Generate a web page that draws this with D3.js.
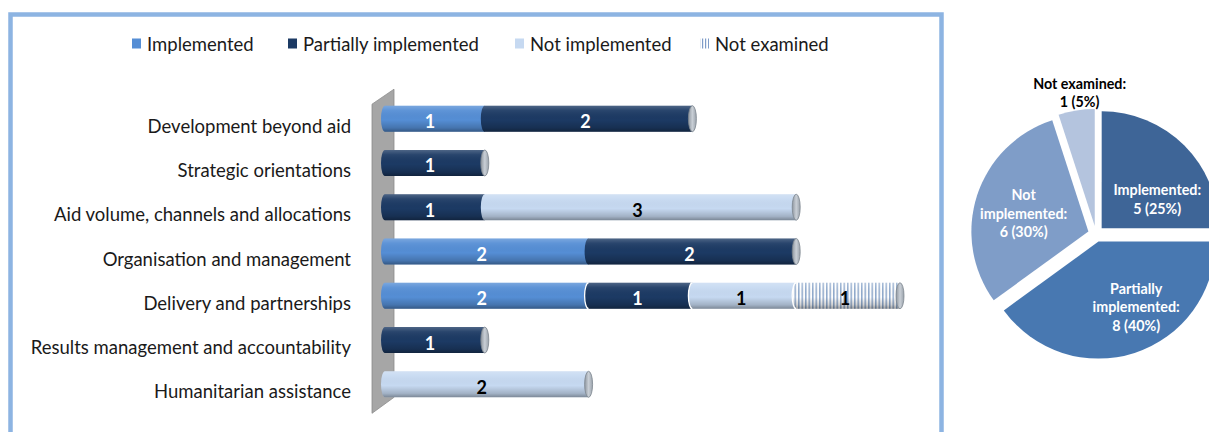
<!DOCTYPE html>
<html><head><meta charset="utf-8">
<script src="https://cdn.jsdelivr.net/npm/d3@7"></script>
<style>body{margin:0;background:#fff}svg{display:block}</style>
</head><body>
<svg id="c" width="1209" height="432"></svg>
<script>
// ---------- data ----------
const categories = ["Development beyond aid","Strategic orientations","Aid volume, channels and allocations","Organisation and management","Delivery and partnerships","Results management and accountability","Humanitarian assistance"];
const seriesNames = ["Implemented","Partially implemented","Not implemented","Not examined"];
const implemented    = [1,0,0,2,2,0,0];
const partial        = [2,1,1,2,1,1,0];
const notImplemented = [0,0,3,0,1,0,2];
const notExamined    = [0,0,0,0,1,0,0];
const xTicks = [0,1,2,3,4,5];

const pieNames  = ["Implemented","Partially implemented","Not implemented","Not examined"];
const pieValues = [5,8,6,1];
const pieLabels = [["Implemented:","5 (25%)"],["Partially","implemented:","8 (40%)"],["Not","implemented:","6 (30%)"],["Not examined:","1 (5%)"]];

// ---------- styles ----------
const barColors = ["#558ED5","#1C3A64","#C6D9F1",null];
const barTextColors = ["#fff","#fff","#000","#000"];
const pieColors = ["#3E6597","#4878B1","#7F9DC8","#B4C4DE"];
const pieTextColors = ["#fff","#fff","#fff","#000"];
const pieLabelNudge = [[6,21],[16,-1],[2,4],[6,0]];
const labelFont = "Lato, 'Open Sans', sans-serif";

const svg = d3.select("#c");
const defs = svg.append("defs");

// shading gradient (cylinder look)
const sh = defs.append("linearGradient").attr("id","shade").attr("x1",0).attr("y1",0).attr("x2",0).attr("y2",1);
[[0,"#fff",0.22],[0.18,"#fff",0.06],[0.55,"#000",0],[0.85,"#000",0.18],[1,"#000",0.38]]
  .forEach(s=>sh.append("stop").attr("offset",s[0]).attr("stop-color",s[1]).attr("stop-opacity",s[2]));
// cap gradient
const cg = defs.append("linearGradient").attr("id","cap").attr("x1",0).attr("y1",0).attr("x2",1).attr("y2",0);
[[0,"#8e969f"],[0.5,"#c9cfd6"],[1,"#9aa2ab"]].forEach(s=>cg.append("stop").attr("offset",s[0]).attr("stop-color",s[1]));
// stripes pattern for "Not examined"
const pat = defs.append("pattern").attr("id","stripes").attr("patternUnits","userSpaceOnUse").attr("width",3.5).attr("height",40);
pat.append("rect").attr("width",3.5).attr("height",40).attr("fill","#ffffff");
pat.append("rect").attr("x",0).attr("width",1.5).attr("height",40).attr("fill","#8FA9CC");
const patL = defs.append("pattern").attr("id","stripesL").attr("patternUnits","userSpaceOnUse").attr("width",3).attr("height",20);
patL.append("rect").attr("width",3).attr("height",20).attr("fill","#ffffff");
patL.append("rect").attr("x",0).attr("width",1.2).attr("height",20).attr("fill","#7F9CC8");
const fills = barColors.map((c,i)=> c ? c : "url(#stripes)");

// frame
svg.append("rect").attr("x",10.5).attr("y",14.5).attr("width",931).attr("height",440)
  .attr("fill","none").attr("stroke","#8DB4E2").attr("stroke-width",4.5);

// ---------- bar chart ----------
const x = d3.scaleLinear().domain([0,5]).range([381, 900]);
const y = d3.scalePoint().domain(categories).range([118.7, 384.3]);
const barH = 26, rx = 4;

const table = categories.map((c,i)=>({cat:c, "Implemented":implemented[i], "Partially implemented":partial[i], "Not implemented":notImplemented[i], "Not examined":notExamined[i]}));
const stack = d3.stack().keys(seriesNames)(table);

// wall
const wallTop = y.range()[0]-15, wallBot = y.range()[1]+13;
svg.append("path")
  .attr("d",`M372,${wallTop+0.5} L394,${wallTop-14.5} L394,${wallBot} L372,${wallBot+16} Z`)
  .attr("fill","#A6A6A6").attr("stroke","#8C8C8C").attr("stroke-width",0.8);

// category labels
svg.append("g").selectAll("text").data(categories).join("text")
  .attr("x",351).attr("y",d=>y(d)+14)
  .attr("text-anchor","end").attr("font-family",labelFont).attr("font-size",18.5).attr("fill","#1a1a1a")
  .text(d=>d);

function segPath(x0,x1,cy,first){
  const t = cy-barH/2, b = cy+barH/2;
  const xl = first ? x0+rx : x0;
  return `M${xl},${t} L${x1},${t} L${x1},${b} L${xl},${b} A${rx},${barH/2} 0 0 1 ${xl},${t} Z`;
}
const segs = [];
categories.forEach((c,i)=>{
  let first = true;
  stack.forEach((s,k)=>{
    const v = s[i][1]-s[i][0];
    if(v>0){ segs.push({cat:c,k,x0:x(s[i][0]),x1:x(s[i][1]),v,first,row:i}); first=false; }
  });
});
const bg = svg.append("g");
segs.forEach(d=>{
  const p = segPath(d.x0,d.x1,y(d.cat),d.first);
  bg.append("path").attr("d",p).attr("fill",fills[d.k]);
  bg.append("path").attr("d",p).attr("fill","url(#shade)");
  if(!d.first && d.row===4){
    bg.append("path").attr("d",`M${d.x0},${y(d.cat)+barH/2} A${rx},${barH/2} 0 0 1 ${d.x0},${y(d.cat)-barH/2}`)
      .attr("fill","none").attr("stroke","#fff").attr("stroke-width",1.3);
  }
});
// end caps
categories.forEach((c,i)=>{
  const tot = stack[stack.length-1][i][1];
  if(tot>0){
    bg.append("ellipse").attr("cx",x(tot)).attr("cy",y(c)).attr("rx",rx).attr("ry",barH/2)
      .attr("fill","url(#cap)").attr("stroke","#7E868F").attr("stroke-width",0.8);
  }
});
// value labels
svg.append("g").selectAll("text").data(segs).join("text")
  .attr("x",d=>(d.x0+d.x1)/2-3).attr("y",d=>y(d.cat)+9.5)
  .attr("text-anchor","middle").attr("font-family",labelFont).attr("font-weight","bold").attr("font-size",18)
  .attr("fill",d=>barTextColors[d.k]).text(d=>d.v);

// legend
const legX = [132, 288, 515, 700];
const lg = svg.append("g");
seriesNames.forEach((n,k)=>{
  if(barColors[k]) lg.append("rect").attr("x",legX[k]).attr("y",38.5).attr("width",9).attr("height",10).attr("fill",barColors[k]);
  else lg.append("rect").attr("x",legX[k]).attr("y",38.5).attr("width",9).attr("height",10).attr("fill","url(#stripesL)");
  lg.append("text").attr("x",legX[k]+15).attr("y",50.5).attr("font-family",labelFont).attr("font-size",18.5).attr("fill","#1a1a1a").text(n);
});

// ---------- pie ----------
const cx = 1096, cy = 234, R = 117, explode = 8;
const pie = d3.pie().sort(null).value(d=>d)(pieValues);
const arc = d3.arc().innerRadius(0).outerRadius(R);
const pg = svg.append("g").attr("transform",`translate(${cx},${cy})`);
pie.forEach((p,i)=>{
  const m = (p.startAngle+p.endAngle)/2;
  const ox = Math.sin(m)*explode, oy = -Math.cos(m)*explode;
  const g = pg.append("g").attr("transform",`translate(${ox},${oy})`);
  g.append("path").attr("d",arc(p)).attr("fill",pieColors[i]);
  const lr = i===3 ? R+18 : R*0.6;
  const lx = ox + Math.sin(m)*lr + pieLabelNudge[i][0];
  const ly = oy - Math.cos(m)*lr + pieLabelNudge[i][1];
  const lines = pieLabels[i];
  const t = pg.append("text").attr("text-anchor","middle").attr("font-family",labelFont)
    .attr("font-weight","bold").attr("font-size",14.3).attr("fill",pieTextColors[i]);
  lines.forEach((ln,j)=>{
    t.append("tspan").attr("x",lx).attr("y",ly + (j-(lines.length-1)/2)*18.5 + 5).text(ln);
  });
});
</script>
</body></html>
